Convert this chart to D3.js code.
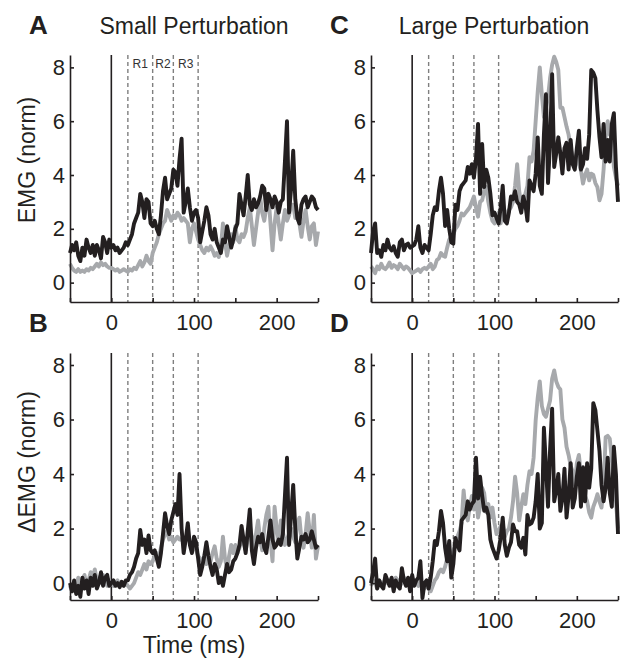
<!DOCTYPE html>
<html>
<head>
<meta charset="utf-8">
<script src="https://cdn.jsdelivr.net/npm/d3@7"></script>
<style>
  body { margin: 0; background: #fff; }
  svg { display: block; font-family: "Liberation Sans", Arial, Helvetica, sans-serif; }
</style>
</head>
<body>
<div id="chart"></div>
<script>
// sample grid (ms), one value every 2.5 ms from -50 to 250
const timeMs = d3.range(-50, 250.01, 2.5);

// reflex windows R1 / R2 / R3 (ms)
const windowEdges = [20, 50, 75, 105];
const windowNames = ["R1", "R2", "R3"];

const xTicks = [-50, 0, 50, 100, 150, 200, 250];
const xTickLabels = [0, 100, 200];
const yTicks = [0, 2, 4, 6, 8];

// A: EMG, small perturbation
const aBlack = [
  1.1, 1.4, 1.2, 1.5, 1.0, 0.8, 1.3, 1.0, 1.6, 1.3, 1.1, 1.4, 1.0, 1.4, 1.2, 0.9, 1.7, 1.5, 1.1, 1.6,
  1.3, 1.4, 1.2, 1.3, 1.1, 1.2, 1.3, 1.5, 1.4, 1.6, 1.8, 2.2, 2.4, 2.6, 3.3, 3.0, 2.4, 3.1, 3.0, 2.2,
  2.1, 2.3, 2.0, 1.8, 2.5, 3.4, 3.9, 3.1, 3.3, 3.5, 4.2, 4.1, 3.6, 4.6, 5.35, 2.6, 3.0, 3.5, 2.8, 2.3,
  2.6, 2.7, 2.4, 1.5, 1.9, 2.3, 2.8, 2.5, 1.8, 1.6, 2.0, 1.5, 1.3, 1.1, 1.6, 1.5, 2.1, 1.7, 1.3, 1.6,
  2.0, 2.2, 3.3, 2.9, 2.5, 3.2, 4.0, 2.9, 2.7, 3.1, 2.8, 2.95, 3.2, 3.6, 3.5, 2.7, 3.3, 3.1, 2.8, 3.2,
  3.0, 2.6, 3.0, 3.1, 4.5, 6.0, 2.6, 3.5, 4.9, 3.1, 2.4, 2.2, 2.9, 3.1, 3.2, 2.8, 3.0, 3.2, 3.1, 2.8,
  2.7
];
const aGray = [
  0.7, 0.55, 0.45, 0.4, 0.5, 0.4, 0.45, 0.4, 0.5, 0.45, 0.55, 0.5, 0.6, 0.7, 0.6, 0.75, 0.65, 0.7, 0.6, 0.55,
  0.55, 0.5, 0.45, 0.5, 0.4, 0.45, 0.5, 0.45, 0.4, 0.5, 0.45, 0.55, 0.5, 0.65, 0.8, 0.6, 0.75, 1.0, 0.8, 0.7,
  1.1, 1.3, 1.5, 1.8, 2.0, 2.2, 2.3, 2.7, 2.5, 2.3, 2.5, 2.4, 2.6, 2.5, 2.3, 2.4, 2.3, 2.2, 1.5, 2.0,
  2.2, 1.9, 1.6, 1.4, 1.2, 1.1, 1.3, 1.2, 1.35, 1.2, 1.0, 1.1, 0.95, 1.3, 2.2, 1.5, 1.0, 1.4, 1.8, 1.5,
  2.1, 1.6, 1.5, 1.8, 1.7, 1.9, 2.4, 2.8, 2.1, 1.4, 2.0, 2.6, 3.2, 2.6, 2.3, 2.8, 3.3, 2.2, 1.2, 2.2,
  2.8, 2.2, 1.6, 2.2, 2.7, 2.3, 2.5, 2.9, 2.9, 2.4, 2.5, 2.2, 1.7, 2.3, 2.7, 2.1, 1.6, 2.1, 2.2, 1.4,
  1.9
];

// B: delta EMG, small perturbation
const bBlack = [
  0.0, -0.3, 0.1, -0.4, -0.1, -0.5, 0.2, -0.2, 0.1, -0.4, 0.2, -0.1, 0.3, -0.2, 0.0, 0.4, -0.1, 0.2, 0.3, -0.1,
  0.0, 0.1, -0.1, 0.0, -0.15, 0.05, -0.1, 0.1, 0.1, 0.3, 0.4, 0.6, 0.9, 1.1, 1.95, 1.4, 1.6, 1.1, 1.75, 1.2,
  1.1, 1.2, 0.9, 0.6, 1.1, 1.8, 2.56, 2.1, 1.8, 2.3, 2.6, 2.9, 2.5, 4.0, 2.0, 1.1, 1.6, 2.2, 1.4, 1.1,
  1.7, 1.5, 0.9, 0.3, 0.6, 1.0, 1.5, 1.0, 0.6, 0.3, 0.7, 0.5, 0.0, 0.2, -0.1, 0.3, 0.7, 0.4, 0.5, 0.8,
  0.9, 1.1, 1.4, 2.1, 1.6, 1.1, 1.9, 2.7, 1.2, 0.7, 1.3, 1.7, 1.5, 1.8, 1.3, 1.1, 1.7, 2.3, 1.6, 1.3,
  1.4, 1.6, 1.4, 1.8, 3.2, 4.6, 1.4, 2.5, 3.6, 2.0, 0.9, 1.3, 1.7, 1.6, 1.8, 1.5, 1.6, 1.9, 1.6, 1.3,
  1.4
];
const bGray = [
  -0.1, -0.3, 0.0, -0.2, 0.2, -0.1, 0.0, 0.3, -0.1, 0.1, 0.4, 0.2, 0.5, 0.1, 0.2, 0.0, 0.3, 0.1, -0.1, 0.1,
  0.0, -0.1, 0.0, 0.1, -0.1, 0.0, -0.1, 0.0, -0.1, -0.2, -0.1, 0.0, 0.2, 0.4, 0.3, 0.5, 0.7, 0.5, 0.8, 0.7,
  0.8, 1.0, 1.1, 0.9, 1.3, 1.6, 1.8, 1.9, 1.6, 1.7, 1.5, 1.6, 1.7, 1.6, 1.6, 1.5, 1.6, 1.7, 1.5, 1.4,
  1.3, 1.2, 1.0, 0.9, 0.8, 1.0, 0.7, 0.9, 0.8, 1.1, 1.35, 0.9, 0.6, 0.8, 1.7, 0.9, 0.5, 1.0, 1.4, 1.1,
  1.4, 1.1, 1.3, 1.6, 1.5, 1.2, 1.6, 2.1, 1.7, 1.3, 1.8, 2.3, 1.6, 1.2, 2.0, 2.5, 2.8, 1.6, 0.8, 2.8,
  2.0, 1.5, 2.3, 1.9, 1.4, 1.6, 1.8, 2.0, 1.7, 1.5, 2.2, 2.4, 1.6, 1.3, 1.8, 2.56, 1.9, 1.3, 2.5, 0.9,
  1.35
];

// C: EMG, large perturbation
const cBlack = [
  1.1, 1.9, 2.2, 1.1, 1.2, 0.96, 1.4, 1.2, 1.6, 1.3, 1.2, 1.35, 1.1, 0.96, 1.5, 1.6, 1.2, 1.4, 1.45, 1.3,
  1.35, 1.4, 1.6, 2.1, 1.3, 1.1, 1.4, 1.3, 1.2, 1.8, 2.5, 2.8, 2.7, 3.4, 3.9, 3.3, 2.1, 2.7, 2.0, 1.5,
  1.45, 2.9, 2.7, 3.4, 3.6, 3.7, 3.8, 4.3, 4.05, 4.4, 3.9, 4.6, 5.9, 3.3, 5.15, 3.55, 4.2, 3.9, 3.3, 2.5,
  2.6, 2.4, 2.2, 2.8, 3.6, 2.3, 2.2, 2.6, 3.2, 3.1, 3.4, 3.0, 2.9, 2.6, 3.2, 2.9, 2.3, 3.8, 3.6, 3.4,
  4.05, 5.4, 3.6, 3.3, 5.5, 7.0, 3.7, 5.2, 7.75, 4.3, 4.8, 5.4, 4.8, 4.05, 5.0, 5.2, 4.2, 5.3, 4.4, 4.2,
  5.0, 5.65, 4.2, 4.4, 5.0, 4.6, 5.5, 7.9, 7.8, 7.6, 6.4, 5.4, 4.66, 5.9, 4.5, 5.3, 4.5, 5.9, 6.3, 4.3,
  3.0
];
const cGray = [
  0.6, 0.5, 0.35, 0.6, 0.5, 0.7, 0.55, 0.5, 0.6, 0.75, 0.55, 0.65, 0.6, 0.5, 0.7, 0.6, 0.5, 0.6, 0.55, 0.45,
  0.35, 0.4, 0.45, 0.5, 0.4, 0.5, 0.55, 0.5, 0.6, 0.7, 0.5, 0.6, 0.84, 0.9, 1.1, 1.0, 0.96, 1.3, 1.6, 1.7,
  1.8, 2.0, 2.1, 2.3, 2.57, 2.5, 2.6, 2.7, 2.8, 3.0, 3.2, 2.8, 2.45, 3.0, 3.06, 3.4, 3.55, 3.0, 2.6, 2.3,
  2.2, 2.4, 2.6, 2.2, 2.7, 2.5, 2.6, 2.7, 2.8, 3.0, 3.6, 4.4, 3.4, 2.9, 2.8, 3.3, 3.6, 4.66, 4.5, 4.9,
  6.0, 7.1, 8.0, 7.0, 6.15, 6.5, 6.9, 7.6, 8.1, 8.4, 8.2, 7.9, 6.5, 6.5, 6.15, 5.8, 5.5, 5.0, 4.66, 4.5,
  4.8, 4.4, 4.17, 3.68, 4.0, 4.2, 3.8, 4.05, 4.0, 3.7, 3.55, 3.06, 3.3, 4.2, 5.4, 6.0, 5.5, 5.4, 4.3, 3.9,
  3.6
];

// D: delta EMG, large perturbation
const dBlack = [
  0.0, 0.4, 0.9, -0.2, 0.1, -0.1, -0.2, 0.3, 0.1, -0.1, 0.2, -0.3, 0.1, -0.1, -0.2, 0.55, 0.1, -0.1, 0.2, -0.3,
  0.3, -0.1, 0.1, 0.2, 0.8, -0.55, 0.0, 0.1, -0.2, 0.2, 0.8, 1.55, 1.4, 1.9, 2.65, 2.2, 1.3, 0.8, 1.55, 0.2,
  0.7, 1.66, 1.4, 1.2, 2.3, 2.4, 2.5, 3.0, 2.7, 2.9, 3.0, 4.6, 3.1, 3.9, 3.2, 2.65, 2.77, 2.5, 1.6, 1.3,
  1.1, 0.9, 1.2, 1.67, 2.4, 1.4, 1.0, 1.3, 1.5, 2.15, 1.9, 1.9, 1.4, 1.3, 1.66, 1.05, 2.5, 2.15, 2.2, 2.4,
  3.0, 4.0, 2.0, 2.2, 5.7, 4.3, 2.8, 4.9, 6.4, 3.0, 3.4, 4.0, 2.65, 3.1, 4.2, 2.4, 3.2, 4.4, 2.77, 3.1,
  3.9, 4.4, 2.8, 4.25, 3.0, 4.4, 3.5, 4.2, 6.6, 6.35, 5.6, 4.85, 3.6, 3.0, 3.5, 4.6, 3.3, 2.8, 5.0, 4.0,
  1.8
];
const dGray = [
  -0.1, 0.1, 0.0, -0.2, 0.1, 0.0, -0.1, 0.2, 0.0, 0.1, -0.1, 0.0, 0.2, 0.1, -0.1, 0.0, 0.2, 0.0, 0.1, -0.1,
  0.0, 0.1, 0.0, -0.1, 0.1, 0.0, -0.2, 0.0, -0.2, -0.3, -0.1, 0.1, 0.2, 0.4, 0.5, 0.4, 0.6, 0.9, 1.1, 1.0,
  1.2, 1.4, 1.7, 1.9, 2.2, 3.4, 2.6, 2.3, 2.8, 3.2, 2.7, 3.3, 2.4, 2.8, 3.5, 3.3, 2.6, 2.9, 2.4, 2.77,
  2.2, 1.8, 1.9, 2.1, 2.15, 1.7, 1.9, 2.0, 2.4, 3.0, 3.9, 3.3, 2.3, 2.8, 3.26, 2.9, 3.6, 4.1, 4.0, 4.6,
  5.97, 6.8, 7.4, 6.5, 6.2, 6.1, 6.4, 6.7, 7.5, 7.8, 7.4, 7.2, 7.1, 6.0, 5.7, 5.0, 4.7, 4.3, 4.1, 3.6,
  4.4, 4.7, 4.0, 3.5, 3.2, 3.0, 2.6, 2.4, 2.8, 3.0, 3.26, 3.0, 2.77, 3.5, 5.35, 5.4, 5.3, 4.5, 3.8, 3.0,
  2.0
];

const ink = "#231f20";
const grayLine = "#a7a9ac";

const width = 624, height = 662;
const svg = d3.select("#chart").append("svg")
  .attr("width", width)
  .attr("height", height);

// panel layout (pixels)
const panels = [
  { letter: "A", black: aBlack, gray: aGray, left: 70, right: 318, top: 55, bottom: 302, yDom: [-0.72, 8.46], rLabels: true },
  { letter: "C", black: cBlack, gray: cGray, left: 371, right: 618, top: 55, bottom: 302, yDom: [-0.72, 8.46], rLabels: false },
  { letter: "B", black: bBlack, gray: bGray, left: 70, right: 318, top: 353, bottom: 600, yDom: [-0.62, 8.44], rLabels: false },
  { letter: "D", black: dBlack, gray: dGray, left: 371, right: 618, top: 353, bottom: 600, yDom: [-0.62, 8.44], rLabels: false }
];

function drawPanel(p) {
  const g = svg.append("g");
  const x = d3.scaleLinear().domain([-50, 250]).range([p.left, p.right]);
  const y = d3.scaleLinear().domain(p.yDom).range([p.bottom, p.top]);

  // dashed reflex window boundaries
  g.selectAll("line.win")
    .data(windowEdges)
    .join("line")
    .attr("class", "win")
    .attr("x1", d => x(d)).attr("x2", d => x(d))
    .attr("y1", p.top).attr("y2", p.bottom)
    .attr("stroke", "#7f7f7f")
    .attr("stroke-width", 1.4)
    .attr("stroke-dasharray", "4,3");

  // perturbation onset
  g.append("line")
    .attr("x1", x(0)).attr("x2", x(0))
    .attr("y1", p.top).attr("y2", p.bottom)
    .attr("stroke", ink)
    .attr("stroke-width", 1.6);

  const line = d3.line()
    .x((d, i) => x(timeMs[i]))
    .y(d => y(d));

  g.append("path")
    .datum(p.gray)
    .attr("fill", "none")
    .attr("stroke", grayLine)
    .attr("stroke-width", 3.9)
    .attr("stroke-linejoin", "round")
    .attr("d", line);

  g.append("path")
    .datum(p.black)
    .attr("fill", "none")
    .attr("stroke", ink)
    .attr("stroke-width", 3.9)
    .attr("stroke-linejoin", "round")
    .attr("d", line);

  // axes, ticks pointing inward
  const yAxis = d3.axisLeft(y)
    .tickValues(yTicks)
    .tickSizeInner(-4)
    .tickSizeOuter(0)
    .tickPadding(5);
  const xAxis = d3.axisBottom(x)
    .tickValues(xTicks)
    .tickSizeInner(-4)
    .tickSizeOuter(0)
    .tickPadding(12)
    .tickFormat(d => xTickLabels.includes(d) ? d : "");

  const ya = g.append("g").attr("transform", `translate(${p.left},0)`).call(yAxis);
  const xa = g.append("g").attr("transform", `translate(0,${p.bottom})`).call(xAxis);
  [ya, xa].forEach(a => {
    a.select(".domain").attr("stroke", ink).attr("stroke-width", 1.6);
    a.selectAll(".tick line").attr("stroke", ink).attr("stroke-width", 1.6);
    a.selectAll(".tick text")
      .attr("fill", ink)
      .style("font-size", "22px")
      .style("font-family", "Liberation Sans, Arial, sans-serif");
  });

  if (p.rLabels) {
    g.selectAll("text.rlab")
      .data(windowNames)
      .join("text")
      .attr("class", "rlab")
      .attr("x", (d, i) => x((windowEdges[i] + windowEdges[i + 1]) / 2))
      .attr("y", p.top + 13)
      .attr("text-anchor", "middle")
      .attr("fill", "#333")
      .style("font-size", "12px")
      .text(d => d);
  }

  // panel letter
  g.append("text")
    .attr("x", p.left - 41)
    .attr("y", p.top - 21)
    .attr("fill", ink)
    .style("font-size", "26px")
    .style("font-weight", "bold")
    .text(p.letter);
}

panels.forEach(drawPanel);

// column titles
svg.append("text")
  .attr("x", 194).attr("y", 34)
  .attr("text-anchor", "middle")
  .attr("fill", ink)
  .style("font-size", "23px")
  .text("Small Perturbation");
svg.append("text")
  .attr("x", 494).attr("y", 34)
  .attr("text-anchor", "middle")
  .attr("fill", ink)
  .style("font-size", "23px")
  .text("Large Perturbation");

// y labels
svg.append("text")
  .attr("transform", "translate(35,160) rotate(-90)")
  .attr("text-anchor", "middle")
  .attr("fill", ink)
  .style("font-size", "23px")
  .text("EMG (norm)");
svg.append("text")
  .attr("transform", "translate(35,462) rotate(-90)")
  .attr("text-anchor", "middle")
  .attr("fill", ink)
  .style("font-size", "23px")
  .text("\u0394EMG (norm)");

// x label
svg.append("text")
  .attr("x", 194).attr("y", 653)
  .attr("text-anchor", "middle")
  .attr("fill", ink)
  .style("font-size", "23px")
  .text("Time (ms)");
</script>
</body>
</html>
